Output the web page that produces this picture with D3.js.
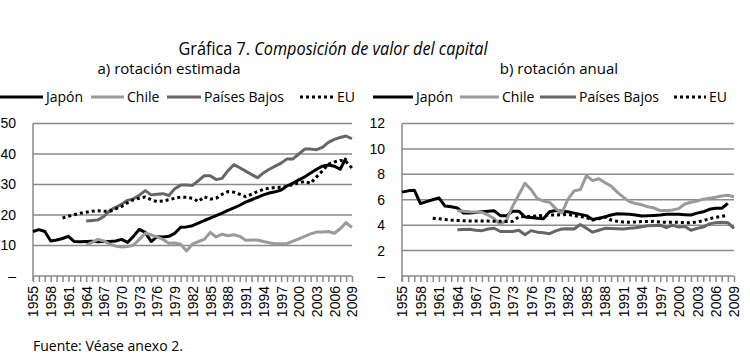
<!DOCTYPE html>
<html>
<head>
<meta charset="utf-8">
<script src="https://cdn.jsdelivr.net/npm/d3@7"></script>
<style>
  body { margin: 0; background: #fff; }
  svg { display: block; font-family: "Open Sans", sans-serif; }
  .grid line { stroke: #8a8a8a; stroke-width: 1.5; }
  .axis path, .axis line { stroke: #8a8a8a; stroke-width: 1.5; }
  .axis text { fill: #000; font-size: 14px; }
  .domain { display: none; }
</style>
</head>
<body>
<svg id="chart" width="750" height="360"></svg>
<script>
const years = d3.range(1955, 2010);
const xLabels = years.filter((y) => (y - 1955) % 3 === 0);

// a) rotación estimada, 1955-2009
const japonA = [14.6, 15.2, 14.6, 11.5, 11.8, 12.3, 13.0, 11.3, 11.2, 11.3,
  11.4, 11.2, 11.3, 11.3, 11.5, 12.0, 11.0, 13.0, 15.3, 14.3,
  11.3, 12.9, 12.8, 13.0, 14.0, 16.0, 16.1, 16.5, 17.3, 18.2,
  19.0, 19.8, 20.6, 21.5, 22.3, 23.2, 24.2, 25.0, 25.8, 26.6,
  27.2, 27.6, 28.2, 29.5, 30.5, 31.5, 32.5, 33.8, 35.0, 36.0,
  36.4, 36.0, 35.0, 38.7, null];
const chileA = [null, null, null, null, null, null, null, null, null, 10.1,
  11.0, 12.0, 11.5, 10.4, 9.8, 9.5, 9.7, 10.1, 12.0, 14.0,
  13.5, 12.8, 12.0, 10.7, 10.8, 10.4, 8.2, 10.5, 11.3, 12.0,
  14.3, 12.8, 13.7, 13.2, 13.5, 13.0, 11.7, 11.8, 11.8, 11.3,
  10.9, 10.6, 10.6, 10.6, 11.4, 12.2, 13.0, 13.8, 14.4, 14.4,
  14.6, 14.0, 15.5, 17.5, 15.9];
const paisesBajosA = [null, null, null, null, null, null, null, null, null, 18.0,
  18.2, 18.4, 19.5, 21.5, 22.5, 23.5, 24.8, 25.3, 26.5, 28.0,
  26.6, 26.8, 27.0, 26.4, 28.6, 29.8, 29.8, 29.7, 31.3, 32.9,
  32.9, 31.6, 32.0, 34.5, 36.5, 35.5, 34.4, 33.3, 32.2, 33.8,
  35.0, 36.0, 37.0, 38.4, 38.4, 40.0, 41.6, 41.6, 41.4, 42.2,
  43.8, 44.8, 45.4, 45.9, 45.0];
const euA = [null, null, null, null, null, 19.0, 19.6, 20.1, 20.6, 20.9,
  21.2, 21.4, 21.2, 21.2, 22.0, 22.8, 24.0, 25.0, 25.5, 25.9,
  25.0, 24.4, 24.6, 25.0, 25.5, 25.9, 25.8, 25.5, 24.4, 26.0,
  25.2, 25.5, 26.8, 27.7, 27.5, 26.8, 26.0, 26.8, 27.7, 28.4,
  28.8, 29.0, 29.1, 29.4, 30.0, 30.5, 31.0, 30.4, 32.5, 34.5,
  36.6, 37.4, 37.9, 37.5, 35.4];

// b) rotación anual, 1955-2009
const japonB = [6.6, 6.7, 6.75, 5.7, 5.85, 6.0, 6.15, 5.5, 5.45, 5.35,
  4.95, 4.95, 5.0, 5.05, 5.1, 5.13, 4.75, 4.75, 5.1, 5.1,
  4.65, 4.6, 4.55, 4.5, 5.05, 5.15, 5.1, 5.05, 4.95, 4.85,
  4.75, 4.45, 4.55, 4.65, 4.8, 4.9, 4.88, 4.85, 4.8, 4.72,
  4.75, 4.77, 4.8, 4.85, 4.85, 4.85, 4.82, 4.8, 4.95, 5.05,
  5.25, 5.33, 5.33, 5.7, null];
const chileB = [null, null, null, null, null, null, null, null, null, 5.13,
  5.1, 5.05, 5.03, 5.0, 4.8, 4.5, 4.05, 4.4, 5.5, 6.4,
  7.3, 6.8, 6.1, 5.9, 5.8, 5.3, 4.95, 6.05, 6.7, 6.8,
  7.9, 7.5, 7.65, 7.35, 7.08, 6.6, 6.2, 5.85, 5.7, 5.6,
  5.45, 5.35, 5.15, 5.15, 5.2, 5.3, 5.67, 5.8, 5.9, 6.05,
  6.12, 6.2, 6.3, 6.35, 6.23];
const paisesBajosB = [null, null, null, null, null, null, null, null, null, 3.63,
  3.65, 3.68, 3.6, 3.57, 3.7, 3.76, 3.5, 3.5, 3.5, 3.6,
  3.24, 3.57, 3.45, 3.4, 3.33, 3.55, 3.7, 3.72, 3.7, 4.05,
  3.75, 3.45, 3.6, 3.75, 3.73, 3.72, 3.7, 3.75, 3.8, 3.88,
  3.95, 3.97, 4.0, 3.8, 4.0, 3.85, 3.9, 3.6, 3.75, 3.85,
  4.1, 4.2, 4.22, 4.2, 3.75];
const euB = [null, null, null, null, null, 4.55, 4.5, 4.45, 4.4, 4.37,
  4.35, 4.33, 4.33, 4.32, 4.32, 4.3, 4.3, 4.28, 4.3, 4.65,
  4.68, 4.7, 4.72, 4.78, 4.8, 4.8, 4.82, 4.85, 4.75, 4.68,
  4.6, 4.4, 4.5, 4.65, 4.4, 4.3, 4.25, 4.23, 4.25, 4.28,
  4.28, 4.3, 4.25, 4.22, 4.22, 4.22, 4.2, 4.2, 4.25, 4.35,
  4.5, 4.62, 4.7, 4.78, null];

const ticksA = [0, 10, 20, 30, 40, 50];
const ticksB = [0, 2, 4, 6, 8, 10, 12];

const styles = {
  "Japón": { color: "#000", dash: null },
  "Chile": { color: "#9a9a9a", dash: null },
  "Países Bajos": { color: "#666", dash: null },
  "EU": { color: "#000", dash: "3,3" },
};

const svg = d3.select("#chart");

const title = svg.append("text")
  .attr("x", 333).attr("y", 55)
  .attr("text-anchor", "middle")
  .attr("textLength", 309)
  .attr("lengthAdjust", "spacingAndGlyphs")
  .style("font-size", "18px");
title.append("tspan").text("Gráfica 7. ");
title.append("tspan").style("font-style", "italic").text("Composición de valor del capital");

svg.append("text")
  .attr("x", 33).attr("y", 351)
  .style("font-size", "14px")
  .text("Fuente: Véase anexo 2.");

function drawPanel(opt) {
  const x = d3.scalePoint().domain(years).range([opt.left, opt.right]);
  const y = d3.scaleLinear().domain([0, opt.max]).range([276, 123.5]);

  svg.append("text")
    .attr("x", opt.subX).attr("y", 74)
    .attr("text-anchor", "middle")
    .style("font-size", "15px")
    .text(opt.subtitle);

  // horizontal grid
  svg.append("g")
    .attr("class", "grid")
    .selectAll("line")
    .data(opt.ticks.filter((d) => d > 0))
    .enter()
    .append("line")
    .attr("x1", opt.left).attr("x2", opt.right)
    .attr("y1", (d) => y(d)).attr("y2", (d) => y(d));

  // y axis
  svg.append("g")
    .attr("class", "axis")
    .attr("transform", `translate(${opt.left},0)`)
    .call(d3.axisLeft(y).tickValues(opt.ticks).tickSize(0).tickPadding(17)
      .tickFormat((d) => (d === 0 ? "–" : d)));
  svg.append("line")
    .attr("x1", opt.left).attr("x2", opt.left)
    .attr("y1", y(opt.max)).attr("y2", y(0) + 5)
    .attr("stroke", "#8a8a8a").attr("stroke-width", 1.5);

  // x axis
  const xAxis = svg.append("g")
    .attr("class", "axis")
    .attr("transform", `translate(0,${y(0)})`)
    .call(d3.axisBottom(x).tickSize(6).tickPadding(4)
      .tickFormat((d) => (xLabels.includes(d) ? d : "")));
  svg.append("line")
    .attr("x1", opt.left).attr("x2", opt.right)
    .attr("y1", y(0)).attr("y2", y(0))
    .attr("stroke", "#8a8a8a").attr("stroke-width", 1.5);
  xAxis.selectAll("text")
    .attr("transform", "rotate(-90)")
    .attr("text-anchor", "end")
    .attr("x", -10).attr("y", 0).attr("dy", "0.35em");

  const line = d3.line()
    .defined((d) => d.v !== null)
    .x((d) => x(d.year))
    .y((d) => y(d.v));

  opt.series.forEach((s) => {
    const st = styles[s.name];
    svg.append("path")
      .datum(years.map((yr, i) => ({ year: yr, v: s.values[i] })))
      .attr("fill", "none")
      .attr("stroke", st.color)
      .attr("stroke-width", 3)
      .attr("stroke-dasharray", st.dash)
      .attr("stroke-linejoin", "round")
      .attr("d", line);
  });

  // legend
  opt.series.forEach((s, i) => {
    const st = styles[s.name];
    const lx = opt.legend[i];
    svg.append("line")
      .attr("x1", lx[0]).attr("x2", lx[1])
      .attr("y1", 97).attr("y2", 97)
      .attr("stroke", st.color)
      .attr("stroke-width", 3)
      .attr("stroke-dasharray", st.dash);
    svg.append("text")
      .attr("x", lx[1] + 3).attr("y", 102)
      .style("font-size", "14px")
      .text(s.name);
  });
}

drawPanel({
  left: 33, right: 352, max: 50, ticks: ticksA,
  subX: 169, subtitle: "a) rotación estimada",
  series: [
    { name: "Japón", values: japonA },
    { name: "Chile", values: chileA },
    { name: "Países Bajos", values: paisesBajosA },
    { name: "EU", values: euA },
  ],
  legend: [[0, 43], [91, 124], [167, 201], [300, 334]],
});

drawPanel({
  left: 402, right: 734, max: 12, ticks: ticksB,
  subX: 559, subtitle: "b) rotación anual",
  series: [
    { name: "Japón", values: japonB },
    { name: "Chile", values: chileB },
    { name: "Países Bajos", values: paisesBajosB },
    { name: "EU", values: euB },
  ],
  legend: [[373, 413], [460, 499], [540, 576], [674, 706]],
});
</script>
</body>
</html>
